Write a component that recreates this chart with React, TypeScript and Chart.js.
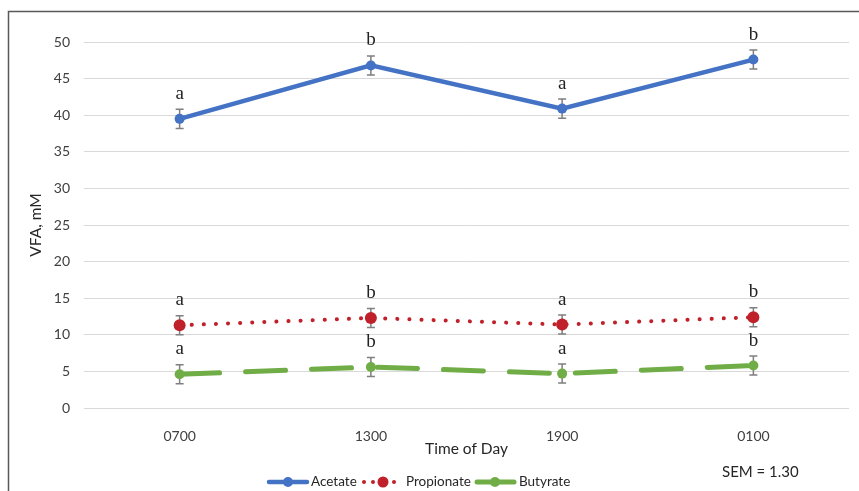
import React, { useEffect, useRef } from "react";
import { Chart, registerables } from "chart.js";
Chart.register(...registerables);

const categories = ["0700", "1300", "1900", "0100"];
const acetate = [39.5, 46.8, 40.9, 47.6];
const propionate = [11.3, 12.3, 11.4, 12.4];
const butyrate = [4.6, 5.6, 4.7, 5.8];
const semValue = 1.3;
const acetateLetters = ["a", "b", "a", "b"];
const propionateLetters = ["a", "b", "a", "b"];
const butyrateLetters = ["a", "b", "a", "b"];
const seriesNames = ["Acetate", "Propionate", "Butyrate"];
const yMin = 0;
const yMax = 50;
const yStep = 5;

const BLUE = "#4472C4";
const RED = "#C0202A";
const GREEN = "#70AD47";
const SANS = "Lato, 'Open Sans', sans-serif";
const SERIF = "'Liberation Serif', 'DejaVu Serif', serif";

const letters = [acetateLetters, propionateLetters, butyrateLetters];

const customPlugin = {
  id: "custom",
  beforeDatasetsDraw(chart: any) {
    const ctx = chart.ctx;
    const y = chart.scales.y;
    ctx.save();
    ctx.strokeStyle = "#7f7f7f";
    ctx.lineWidth = 1.5;
    chart.data.datasets.forEach((ds: any, di: number) => {
      const meta = chart.getDatasetMeta(di);
      meta.data.forEach((pt: any, i: number) => {
        const v = ds.data[i];
        const yt = y.getPixelForValue(v + semValue);
        const yb = y.getPixelForValue(v - semValue);
        const x = pt.x;
        ctx.beginPath();
        ctx.moveTo(x, yt);
        ctx.lineTo(x, yb);
        ctx.moveTo(x - 4, yt);
        ctx.lineTo(x + 4, yt);
        ctx.moveTo(x - 4, yb);
        ctx.lineTo(x + 4, yb);
        ctx.stroke();
      });
    });
    ctx.restore();
  },
  afterDraw(chart: any) {
    const ctx = chart.ctx;
    const area = chart.chartArea;
    ctx.save();
    // significance letters
    ctx.font = `19px ${SERIF}`;
    ctx.fillStyle = "#222";
    ctx.textAlign = "center";
    ctx.textBaseline = "alphabetic";
    chart.data.datasets.forEach((ds: any, di: number) => {
      const meta = chart.getDatasetMeta(di);
      meta.data.forEach((pt: any, i: number) => {
        ctx.fillText(letters[di][i], pt.x, pt.y - 20);
      });
    });
    // axis titles
    ctx.font = `15.5px ${SANS}`;
    ctx.fillStyle = "#262626";
    ctx.textBaseline = "middle";
    ctx.fillText("Time of Day", (area.left + area.right) / 2, 449);
    ctx.save();
    ctx.translate(36, (area.top + area.bottom) / 2);
    ctx.rotate(-Math.PI / 2);
    ctx.fillText("VFA, mM", 0, 0);
    ctx.restore();
    // SEM
    ctx.font = `15px ${SANS}`;
    ctx.textAlign = "left";
    ctx.fillText("SEM = 1.30", 722, 472);
    // legend
    const ly = 482;
    ctx.font = `13.5px ${SANS}`;
    ctx.lineCap = "round";
    // Acetate
    ctx.strokeStyle = BLUE;
    ctx.lineWidth = 4.5;
    ctx.beginPath();
    ctx.moveTo(269, ly);
    ctx.lineTo(307, ly);
    ctx.stroke();
    ctx.fillStyle = BLUE;
    ctx.beginPath();
    ctx.arc(288, ly, 5, 0, Math.PI * 2);
    ctx.fill();
    ctx.fillStyle = "#262626";
    ctx.fillText(seriesNames[0], 311, ly);
    // Propionate
    ctx.fillStyle = RED;
    [364, 373, 394].forEach((x) => {
      ctx.beginPath();
      ctx.arc(x, ly, 2, 0, Math.PI * 2);
      ctx.fill();
    });
    ctx.beginPath();
    ctx.arc(383, ly, 5.5, 0, Math.PI * 2);
    ctx.fill();
    ctx.fillStyle = "#262626";
    ctx.fillText(seriesNames[1], 406, ly);
    // Butyrate
    ctx.strokeStyle = GREEN;
    ctx.lineWidth = 5;
    ctx.beginPath();
    ctx.moveTo(477, ly);
    ctx.lineTo(514, ly);
    ctx.stroke();
    ctx.fillStyle = GREEN;
    ctx.beginPath();
    ctx.arc(495, ly, 5, 0, Math.PI * 2);
    ctx.fill();
    ctx.fillStyle = "#262626";
    ctx.fillText(seriesNames[2], 519, ly);
    // border
    ctx.strokeStyle = "#595959";
    ctx.lineWidth = 1.5;
    ctx.lineCap = "butt";
    ctx.beginPath();
    ctx.moveTo(8.5, 600);
    ctx.lineTo(8.5, 11.5);
    ctx.lineTo(900, 11.5);
    ctx.stroke();
    ctx.restore();
  },
};

export default function App() {
  const ref = useRef<HTMLCanvasElement>(null);
  useEffect(() => {
    if (!ref.current) return;
    const chart = new Chart(ref.current, {
      type: "line",
      data: {
        labels: categories,
        datasets: [
          {
            label: seriesNames[0],
            data: acetate,
            borderColor: BLUE,
            backgroundColor: BLUE,
            borderWidth: 4.5,
            pointRadius: 5,
            pointBorderWidth: 0,
            tension: 0,
          },
          {
            label: seriesNames[1],
            data: propionate,
            borderColor: RED,
            backgroundColor: RED,
            borderWidth: 4,
            borderDash: [0.1, 12],
            borderCapStyle: "round",
            pointRadius: 6,
            pointBorderWidth: 0,
            tension: 0,
          },
          {
            label: seriesNames[2],
            data: butyrate,
            borderColor: GREEN,
            backgroundColor: GREEN,
            borderWidth: 5,
            borderDash: [40, 26],
            borderCapStyle: "round",
            pointRadius: 5,
            pointBorderWidth: 0,
            tension: 0,
          },
        ],
      },
      options: {
        animation: false,
        responsive: false,
        maintainAspectRatio: false,
        layout: { padding: { left: 0, right: 10, top: 42, bottom: 0 } },
        plugins: { legend: { display: false }, tooltip: { enabled: false } },
        scales: {
          x: {
            offset: true,
            grid: { display: false, offset: true },
            border: { display: false },
            ticks: { padding: 12, color: "#404040", font: { family: SANS, size: 14 } },
            afterFit: (s: any) => {
              s.height = 83;
            },
          },
          y: {
            min: yMin,
            max: yMax,
            grid: { color: "#d9d9d9", drawTicks: false, lineWidth: 1 },
            border: { display: false },
            ticks: { stepSize: yStep, padding: 14, color: "#404040", font: { family: SANS, size: 14 } },
            afterFit: (s: any) => {
              s.width = 84;
            },
          },
        },
      } as any,
      plugins: [customPlugin],
    });
    return () => chart.destroy();
  }, []);
  return (
    <div style={{ position: "fixed", left: 0, top: 0, width: 859, height: 491, background: "#fff" }}>
      <canvas ref={ref} width={859} height={491} style={{ width: 859, height: 491, display: "block" }} />
    </div>
  );
}
